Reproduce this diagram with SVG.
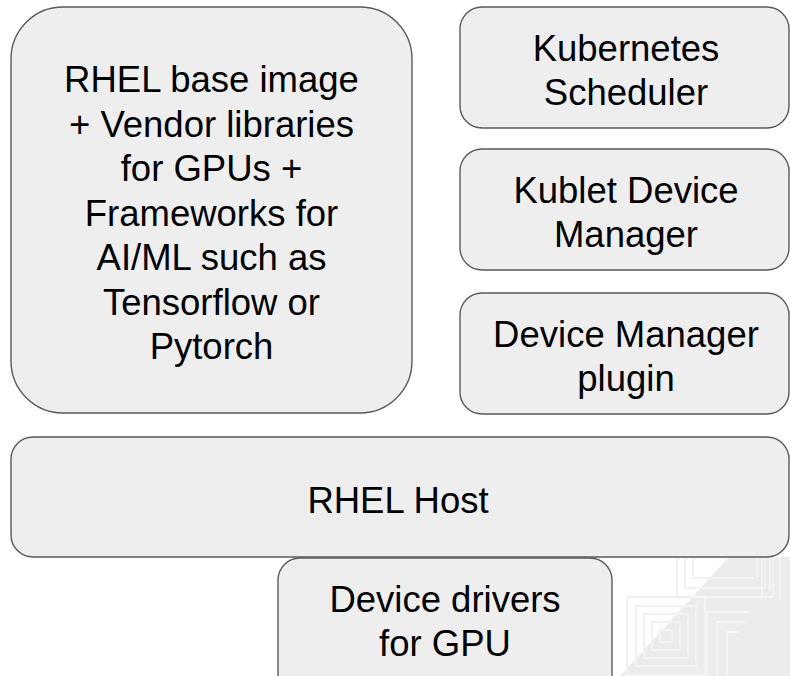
<svg xmlns="http://www.w3.org/2000/svg" width="790" height="676" viewBox="0 0 790 676">
<defs>
<style>
.box{fill:#eeeeee;stroke:#5a5a5a;stroke-width:1.4}
.t{font-family:"Liberation Sans",Arial,sans-serif;font-size:36.5px;fill:#000;text-anchor:middle}
.pl{fill:none;stroke-width:1.3}
</style>
<clipPath id="cw"><polygon points="600,557 729,557 620,676 600,676"/></clipPath>
<clipPath id="cg"><polygon points="729,557 790,557 790,676 620,676"/></clipPath>
<g id="pat">
<rect x="660" y="630" width="12" height="12"/>
<rect x="652" y="622" width="28" height="28"/>
<rect x="644" y="614" width="44" height="44"/>
<rect x="636" y="606" width="60" height="60"/>
<rect x="627" y="597" width="78" height="78"/>
<rect x="693" y="540" width="64" height="38"/>
<rect x="685" y="530" width="80" height="58"/>
<rect x="677" y="520" width="96" height="77"/>
<path d="M707 676V612H750M717 676V622H745M727 676V632H740"/>
<path d="M762 557V598M770 557V590M780 557V600"/>
</g>
</defs>
<rect width="790" height="676" fill="#ffffff"/>
<g id="background">
<polygon points="729,557 790,557 790,676 620,676" fill="#ececec"/>
<use href="#pat" class="pl" stroke="#ececec" clip-path="url(#cw)"/>
<use href="#pat" class="pl" stroke="#f7f7f7" clip-path="url(#cg)"/>
</g>
<g id="connectors"></g>
<g id="node-image">
<rect class="box" x="11" y="7" width="401" height="406" rx="52" ry="52"/>
<text class="t" x="211.5" y="92">RHEL base image</text>
<text class="t" x="211.5" y="136.5">+ Vendor libraries</text>
<text class="t" x="211.5" y="181">for GPUs +</text>
<text class="t" x="211.5" y="225.5">Frameworks for</text>
<text class="t" x="211.5" y="270">AI/ML such as</text>
<text class="t" x="211.5" y="314.5">Tensorflow or</text>
<text class="t" x="211.5" y="359">Pytorch</text>
</g>
<g id="node-scheduler">
<rect class="box" x="460" y="7" width="329" height="121" rx="22" ry="22"/>
<text class="t" x="626" y="61">Kubernetes</text>
<text class="t" x="626" y="104.5">Scheduler</text>
</g>
<g id="node-kublet">
<rect class="box" x="460" y="149" width="329" height="121" rx="22" ry="22"/>
<text class="t" x="626" y="203">Kublet Device</text>
<text class="t" x="626" y="247">Manager</text>
</g>
<g id="node-plugin">
<rect class="box" x="460" y="293" width="329" height="121" rx="22" ry="22"/>
<text class="t" x="626" y="347">Device Manager</text>
<text class="t" x="626" y="391">plugin</text>
</g>
<g id="node-host">
<rect class="box" x="11" y="437" width="778" height="120" rx="22" ry="22"/>
<text class="t" x="398" y="513">RHEL Host</text>
</g>
<g id="node-drivers">
<rect class="box" x="278" y="558" width="334" height="140" rx="22" ry="22"/>
<text class="t" x="445" y="612">Device drivers</text>
<text class="t" x="445" y="656">for GPU</text>
</g>
</svg>
